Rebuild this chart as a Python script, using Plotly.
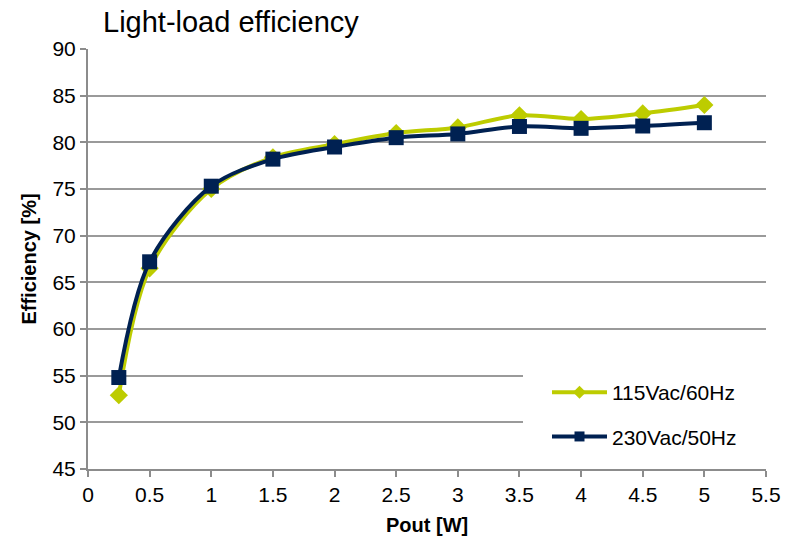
import plotly.graph_objects as go

pout = [0.25, 0.5, 1, 1.5, 2, 2.5, 3, 3.5, 4, 4.5, 5]
eff_115 = [52.9, 66.5, 75.0, 78.4, 79.8, 81.0, 81.6, 82.9, 82.5, 83.1, 84.0]
eff_230 = [54.8, 67.2, 75.3, 78.2, 79.5, 80.5, 80.9, 81.7, 81.5, 81.75, 82.1]
series_names = ["115Vac/60Hz", "230Vac/50Hz"]
x_ticks = [0, 0.5, 1, 1.5, 2, 2.5, 3, 3.5, 4, 4.5, 5, 5.5]
y_ticks = [45, 50, 55, 60, 65, 70, 75, 80, 85, 90]

GREEN = "#BDCC00"
NAVY = "#002152"
FONT = "Liberation Sans, Arial, sans-serif"

fig = go.Figure()
fig.add_trace(go.Scatter(
    x=pout, y=eff_115, name=series_names[0], mode="lines+markers",
    line=dict(color=GREEN, width=4, shape="spline", smoothing=0.9),
    marker=dict(symbol="diamond", size=14, color=GREEN),
    showlegend=False,
))
fig.add_trace(go.Scatter(
    x=pout, y=eff_230, name=series_names[1], mode="lines+markers",
    line=dict(color=NAVY, width=4, shape="spline", smoothing=0.9),
    marker=dict(symbol="square", size=15, color=NAVY),
    showlegend=False,
))
# legend entries with smaller symbols
fig.add_trace(go.Scatter(
    x=[None], y=[None], name=series_names[0], mode="lines+markers",
    line=dict(color=GREEN, width=4), marker=dict(symbol="diamond", size=10, color=GREEN),
    legendgroup="a", hoverinfo="skip",
))
fig.add_trace(go.Scatter(
    x=[None], y=[None], name=series_names[1], mode="lines+markers",
    line=dict(color=NAVY, width=4), marker=dict(symbol="square", size=10, color=NAVY),
    legendgroup="b", hoverinfo="skip",
))

fig.add_shape(type="rect", xref="paper", yref="paper",
              x0=0.6416, x1=1.0, y0=0.02, y1=0.29,
              fillcolor="white", line=dict(width=0), layer="above")

fig.add_annotation(text="<b>Pout [W]</b>", xref="paper", yref="paper",
                   x=0.5, y=(469-525)/420, xanchor="center", yanchor="middle",
                   showarrow=False, font=dict(size=20, family=FONT, color="black"))

fig.update_layout(
    width=793, height=539,
    margin=dict(l=88, r=27, t=49, b=70),
    paper_bgcolor="white", plot_bgcolor="white",
    font=dict(family=FONT, size=21, color="black"),
    title=dict(text="Light-load efficiency", font=dict(size=29, family=FONT, color="black"),
               x=103/793, xanchor="left", xref="container",
               y=1 - 22/539, yanchor="middle", yref="container"),
    showlegend=True,
    legend=dict(x=(547-88)/678, y=(469-372)/420, xanchor="left", yanchor="top",
                bgcolor="rgba(0,0,0,0)", font=dict(size=21, family=FONT),
                itemwidth=55, tracegroupgap=14, traceorder="grouped"),
    xaxis=dict(range=[0, 5.5], tickvals=x_ticks, ticktext=[str(v) for v in x_ticks],
               automargin=False,
               showgrid=False, zeroline=False, showline=True, linecolor="#8c8c8c", linewidth=2,
               ticks="outside", ticklen=6, tickcolor="#8c8c8c", tickwidth=2,
               tickfont=dict(size=21)),
    yaxis=dict(range=[45, 90], tickvals=y_ticks,
               automargin=False,
               showgrid=True, gridcolor="#9a9a9a", gridwidth=2, zeroline=False,
               showline=True, linecolor="#8c8c8c", linewidth=2,
               ticks="outside", ticklen=6, tickcolor="#8c8c8c", tickwidth=2,
               title=dict(text="<b>Efficiency [%]</b>", font=dict(size=20, family=FONT), standoff=10),
               tickfont=dict(size=21)),
)

fig.write_html("out.html", config={"displayModeBar": False},
               post_script="document.body.style.margin='0';document.body.style.padding='0';")
